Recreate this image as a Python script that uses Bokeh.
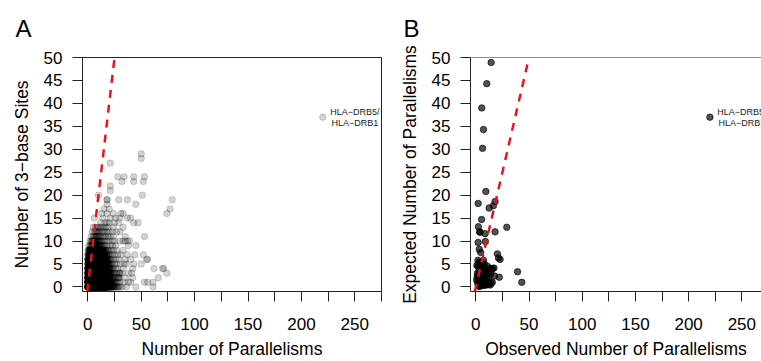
from bokeh.plotting import figure
from bokeh.models import FixedTicker, Range1d, Slope, Span
from bokeh.layouts import row
from bokeh.embed import file_html
from bokeh.resources import INLINE
from bokeh.core.properties import value

FONT = "Liberation Sans"

# ---------------- Panel A data ----------------
# counts of overlapping genes at integer (parallelisms, 3-base sites); row = sites 0..13, column = parallelisms 0..30
core_counts = [
    [12, 18, 24, 28, 30, 30, 30, 28, 27, 25, 23, 21, 19, 17, 15, 13, 11, 9, 8, 6, 5, 4, 3, 3, 2, 2, 1, 1, 1, 1, 1],
    [12, 20, 26, 30, 32, 32, 32, 30, 28, 26, 24, 22, 20, 18, 16, 14, 12, 10, 8, 6, 5, 4, 3, 2, 2, 1, 1, 1, 1, 0, 1],
    [10, 18, 24, 28, 30, 30, 30, 28, 26, 24, 22, 20, 18, 16, 14, 12, 10, 8, 7, 5, 4, 3, 2, 2, 1, 1, 1, 0, 1, 3, 0],
    [8, 16, 22, 26, 28, 28, 28, 26, 24, 22, 20, 18, 16, 14, 12, 10, 8, 7, 6, 4, 3, 3, 2, 1, 1, 1, 0, 1, 0, 1, 2],
    [6, 12, 18, 22, 24, 24, 24, 24, 22, 20, 18, 16, 14, 12, 10, 8, 7, 6, 5, 3, 3, 2, 1, 1, 1, 0, 1, 0, 1, 0, 0],
    [4, 10, 14, 18, 20, 20, 20, 20, 18, 18, 16, 14, 12, 10, 8, 7, 6, 5, 3, 3, 2, 1, 1, 1, 0, 1, 0, 1, 0, 0, 1],
    [4, 8, 12, 14, 16, 18, 18, 18, 16, 16, 14, 12, 10, 9, 7, 6, 5, 3, 3, 2, 1, 1, 1, 0, 1, 0, 1, 0, 0, 1, 0],
    [2, 6, 8, 12, 14, 14, 16, 16, 14, 14, 12, 10, 9, 7, 5, 5, 3, 3, 2, 1, 1, 1, 0, 1, 0, 1, 0, 0, 1, 0, 0],
    [1, 3, 5, 7, 8, 8, 10, 10, 10, 8, 8, 6, 6, 4, 4, 3, 2, 1, 1, 1, 1, 0, 1, 0, 1, 0, 0, 1, 0, 0, 0],
    [0, 1, 1, 2, 2, 2, 3, 3, 3, 2, 2, 2, 2, 1, 1, 1, 1, 0, 1, 0, 0, 1, 0, 1, 0, 0, 1, 0, 0, 0, 0],
    [0, 0, 1, 1, 2, 2, 2, 2, 2, 2, 1, 2, 1, 1, 1, 0, 1, 0, 1, 0, 1, 0, 0, 1, 0, 1, 0, 0, 0, 0, 1],
    [0, 0, 0, 1, 0, 1, 1, 1, 2, 1, 1, 1, 1, 0, 1, 1, 0, 1, 0, 1, 0, 1, 0, 0, 1, 0, 0, 0, 0, 0, 0],
    [0, 0, 0, 0, 1, 0, 1, 1, 1, 1, 1, 1, 0, 1, 1, 0, 1, 0, 1, 0, 1, 0, 0, 1, 0, 0, 0, 0, 0, 0, 0],
    [0, 0, 0, 0, 0, 1, 0, 1, 0, 1, 1, 0, 1, 1, 0, 1, 0, 1, 0, 1, 0, 0, 0, 0, 0, 0, 0, 0, 0, 0, 0],
]
# scattered genes outside the dense core
extra_par = [21, 50, 50, 28, 34, 43, 53, 32, 43, 52, 21, 21, 10, 51, 18, 18, 29, 37, 18, 45,
             79, 77, 74, 15, 20, 13, 18, 24, 31, 33, 6, 14, 21, 26, 30, 37, 40, 43, 47, 16,
             18, 20, 25, 29, 12, 53, 35, 30, 27, 33, 24, 37, 39, 35, 33, 52, 55, 56, 50, 62,
             70, 71, 66, 74, 53, 56, 61, 61, 45, 40, 42, 38, 36, 40, 44, 33, 38, 45, 42, 35,
             32, 34, 36, 38, 33, 35, 31, 32, 34, 37, 41, 43, 220]
extra_sites = [27, 29, 28, 24, 24, 24, 24, 23, 23, 23, 22, 21, 20, 20, 19, 19, 19, 19, 18, 18,
               19, 17, 16, 17, 17, 16, 16, 16, 16, 16, 15, 15, 15, 15, 15, 15, 15, 14, 14, 14,
               14, 14, 14, 14, 14, 11, 11, 12, 12, 13, 13, 10, 10, 10, 10, 7, 6, 6, 5, 4,
               4, 4, 2, 3, 1, 1, 1, 0, 0, 1, 2, 3, 5, 6, 7, 8, 9, 9, 4, 2,
               0, 1, 0, 1, 4, 6, 7, 3, 5, 7, 3, 5, 37]

# ---------------- Panel B data ----------------
obs_par = [14.4, 10.3, 5.6, 7.2, 6.3, 9.4, 2.2, 18.1, 16.5, 12.5, 5.4, 2.4, 29.1, 3.5, 4.0, 18.1,
           8.7, 2.2, 9.0, 3.2, 4.6, 20.3, 21.3, 22.8, 7.2, 3.0, 39.2, 43.2, 22.0, 17.6, 15.5,
           1.0, 2.0, 3.2, 4.5, 5.5, 7.0, 8.5, 10.0, 12.0, 14.0, 1.5, 2.5, 3.5, 4.5, 5.5, 6.5,
           7.5, 8.5, 9.5, 10.5, 11.5, 12.5, 13.5, 11.0, 0.8, 1.8, 2.5, 3.5, 4.5, 5.5, 6.5, 7.5,
           8.5, 9.5, 3.0, 5.0, 2.0, 4.0, 6.0, 7.0, 9.0, 3.0, 5.0, 4.0, 2.0, 6.0, 8.0, 11.0,
           13.0, 15.5, 14.5, 12.0, 10.0, 1.2, 6.0, 8.0, 15.0, 17.0, 220.0]
exp_par = [48.9, 44.3, 39.0, 34.3, 30.2, 20.8, 18.2, 18.6, 17.7, 17.2, 14.7, 13.1, 13.0, 12.0, 11.9, 12.0,
           11.6, 9.7, 9.9, 8.2, 7.5, 7.2, 6.3, 6.0, 5.8, 5.3, 3.3, 1.0, 2.1, 2.4, 4.0,
           4.7, 4.5, 4.0, 3.8, 4.2, 3.5, 4.0, 3.8, 3.2, 2.8, 3.0, 2.5, 2.0, 1.8, 2.8, 2.2,
           1.5, 2.5, 1.2, 2.0, 1.0, 0.6, 0.4, 0.5, 1.5, 1.0, 0.3, 0.8, 0.5, 1.2, 0.4, 0.9,
           0.3, 0.6, 0.1, 0.2, 0.6, 1.3, 1.6, 2.8, 3.0, 3.4, 5.0, 5.4, 5.8, 4.8, 5.0, 4.5,
           4.0, 1.0, 0.8, 1.8, 2.8, 2.2, 0.8, 1.2, 3.9, 4.1, 37.0]

x_ticks = [0, 25, 50, 75, 100, 125, 150, 175, 200, 225, 250, 275]
y_ticks = [0, 5, 10, 15, 20, 25, 30, 35, 40, 45, 50]
label_lines = ["HLA\u2212DRB5/", "HLA\u2212DRB1"]

# expand the core counts into individual points
a_x, a_y = [], []
for site, counts in enumerate(core_counts):
    for par, n in enumerate(counts):
        a_x += [par] * n
        a_y += [site] * n
a_x += extra_par
a_y += extra_sites


def make_fig(width, border_left, border_right, x_end, xlabel, ylabel, letter):
    p = figure(width=width, height=361, output_backend="svg", toolbar_location=None,
               x_range=Range1d(-5, x_end), y_range=Range1d(-1, 50),
               min_border_left=border_left, min_border_right=border_right,
               min_border_top=57, min_border_bottom=70)
    p.grid.visible = False
    p.background_fill_color = "white"
    p.border_fill_color = "white"
    for ax in (p.xaxis[0], p.yaxis[0]):
        ax.major_tick_out = 10
        ax.major_tick_in = 0
        ax.minor_tick_line_color = None
        ax.axis_line_color = "#222222"
        ax.major_tick_line_color = "#222222"
        ax.major_label_text_font = FONT
        ax.major_label_text_font_size = "17px"
        ax.major_label_text_color = "black"
        ax.axis_label_text_font = FONT
        ax.axis_label_text_font_size = "17.5px"
        ax.axis_label_text_font_style = "normal"
        ax.axis_label_text_color = "black"
    p.xaxis.ticker = FixedTicker(ticks=x_ticks)
    p.xaxis.major_label_overrides = {t: "" for t in x_ticks if t % 50 != 0}
    p.xaxis.major_label_standoff = 16
    p.xaxis.axis_label = xlabel
    p.xaxis.axis_label_standoff = 6
    p.yaxis.ticker = FixedTicker(ticks=y_ticks)
    p.yaxis.major_label_standoff = 10
    p.yaxis.axis_label = ylabel
    p.yaxis.axis_label_standoff = 9
    p.title.text = letter
    p.title.align = "left"
    p.title.vertical_align = "top"
    p.title.offset = -67
    p.title.standoff = 27
    p.title.text_font = FONT
    p.title.text_font_size = "24px"
    p.title.text_font_style = "normal"
    p.title.text_color = "black"
    return p


# ---------- Panel A ----------
pA = make_fig(391, 82, 10, 275, "Number of Parallelisms", "Number of 3\u2212base Sites", "A")
pA.outline_line_color = "#222222"
pA.outline_line_width = 1
pA.scatter(a_x, a_y, size=6.5, marker="circle", fill_color="black", fill_alpha=0.17,
           line_color="black", line_alpha=0.2, line_width=0.8)
pA.add_layout(Slope(gradient=2, y_intercept=0, line_color="#e8141c", line_width=2.5, line_dash="8 7"))
pA.text(x=[250, 250], y=[38.1, 35.7], text=label_lines, text_font=value(FONT),
        text_font_size="9px", text_align="center", text_baseline="middle", text_color="#222222")

# ---------- Panel B ----------
pB = make_fig(370, 79, 0, 268.5, "Observed Number of Parallelisms", "Expected Number of Parallelisms", "B")
pB.outline_line_color = None
pB.add_layout(Span(location=50, dimension="width", line_color="#222222", line_width=1))
pB.scatter(obs_par, exp_par, size=6.5, marker="circle", fill_color="black", fill_alpha=0.68,
           line_color="black", line_alpha=0.8, line_width=0.8)
pB.add_layout(Slope(gradient=1, y_intercept=0, line_color="#e8141c", line_width=2.5, line_dash="8 7"))
pB.text(x=[250, 250], y=[38.1, 35.7], text=label_lines, text_font=value(FONT),
        text_font_size="9px", text_align="center", text_baseline="middle", text_color="#222222")

layout = row(pA, pB)
open("out.html", "w").write(file_html(layout, INLINE))
